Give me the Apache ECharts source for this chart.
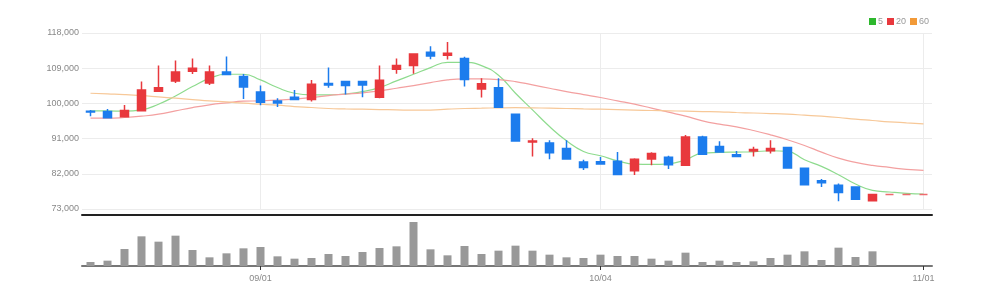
<!DOCTYPE html>
<html>
<head>
<meta charset="utf-8">
<script src="https://cdn.jsdelivr.net/npm/echarts@6/dist/echarts.min.js"></script>
<style>
html,body{margin:0;padding:0;background:#fff;}
#chart{width:983px;height:299px;}
</style>
</head>
<body>
<div id="chart"></div>
<script>
const dates = ['08/18','08/19','08/22','08/23','08/24','08/25','08/26','08/29','08/30','08/31',
  '09/01','09/02','09/05','09/06','09/07','09/08','09/13','09/14','09/15','09/16',
  '09/19','09/20','09/21','09/22','09/23','09/26','09/27','09/28','09/29','09/30',
  '10/04','10/05','10/06','10/07','10/11','10/12','10/13','10/14','10/17','10/18',
  '10/19','10/20','10/21','10/24','10/25','10/26','10/27','10/28','10/31','11/01'];
const tickLabels = ['09/01','10/04','11/01'];
const openP  = [98000,97900,96600,98100,103100,105700,108200,105200,108000,106900,
  102900,100600,101600,101000,105100,105600,105600,101600,108700,109700,
  113100,112300,111500,103700,104000,97200,90100,89900,88500,85000,
  85100,85200,82800,85800,86200,84200,91400,89000,86900,87800,
  87900,88700,83400,80200,79100,78600,75100,76700,76700,76700];
const closeP = [97800,96300,98200,103400,104000,108000,109000,108000,107400,104200,
  100300,100100,101000,104900,104700,104600,104700,105900,109700,112600,
  112100,112800,106100,105000,99000,90400,90400,87400,85800,83600,
  84500,81800,85700,87200,84300,91400,87000,87600,86400,88200,
  88500,83500,79200,79700,77200,75500,76700,76700,76700,76700];
const lowP   = [96700,96300,96500,97900,103000,105200,107500,104700,107300,101100,
  99500,99100,100900,100500,104000,102300,101600,101300,107600,107600,
  111300,111200,104300,101500,98800,90200,86400,85700,85700,83000,
  84300,81700,81700,84200,83200,84000,87000,87400,86300,86400,
  87200,83400,79000,78600,75000,75300,75100,76700,76700,76700];
const highP  = [98300,98600,99600,105600,109700,111000,111500,109700,112000,107500,
  104600,101300,103400,106000,109200,105600,105700,109700,111500,112600,
  114600,115700,111900,106400,106400,97300,91100,90600,90600,85600,
  86300,87600,86000,87500,86600,91900,91700,90300,87800,88900,
  90600,88900,83400,80700,79500,78800,76700,76700,76700,76700];
const volume = [12,16,51,89,73,91,48,26,38,53,
  57,29,22,24,36,30,42,54,59,132,
  50,32,60,36,46,61,46,34,26,24,
  34,30,30,22,16,40,12,16,12,14,
  24,34,44,18,55,27,44,null,null,null];
const ma5 = [98100,98100,98000,98350,99800,101900,104300,106400,107450,107450,
  106000,104050,102600,102180,102180,102430,103000,104050,105750,107450,
  109150,110500,110500,109660,107200,102600,98350,94100,90440,87720,
  86610,85330,84480,84400,84560,85580,87290,87460,87550,87630,
  87890,87720,85580,83890,81760,79380,77760,77340,77000,76830];
const ma20 = [96220,96220,96390,96730,97240,98090,98940,99630,100130,100560,
  100650,100820,101100,101500,102010,102350,102690,103200,103880,104560,
  105320,106000,106260,106260,106100,105580,104730,103880,103030,102260,
  101500,100650,99800,98780,97750,96730,95540,94690,94010,93080,
  91970,90700,89250,87550,86010,84910,84140,83630,83120,82870];
const ma60 = [102600,102430,102260,102010,101670,101330,100990,100650,100390,100050,
  99800,99540,99200,98950,98690,98600,98520,98430,98350,98260,
  98300,98520,98690,98780,98860,98900,98860,98780,98690,98600,
  98520,98430,98300,98180,98100,98010,97920,97840,97670,97540,
  97410,97240,96990,96730,96390,95970,95630,95290,95030,94780];

const candles = dates.map((d, i) => [openP[i], closeP[i], lowP[i], highP[i]]);
const isTick = (idx) => tickLabels.indexOf(dates[idx]) >= 0;
const FONT = "'Liberation Sans',Arial,sans-serif";

const chart = echarts.init(document.getElementById('chart'), null, {renderer: 'canvas'});
chart.setOption({
  animation: false,
  backgroundColor: '#fff',
  legend: {
    right: 49, top: 12,
    itemWidth: 7, itemHeight: 7, itemGap: 4,
    icon: 'rect',
    textStyle: {fontSize: 9, color: '#999', fontFamily: FONT, padding: [0,0,0,-3]},
    data: [
      {name: '5', itemStyle: {color: '#2db82d'}},
      {name: '20', itemStyle: {color: '#e8383d'}},
      {name: '60', itemStyle: {color: '#f29a38'}}
    ]
  },
  grid: [
    {left: 82, right: 51, top: 33, height: 176},
    {left: 82, right: 51, top: 215, height: 51}
  ],
  xAxis: [
    {
      type: 'category', gridIndex: 0, data: dates, boundaryGap: true,
      axisLine: {show: false}, axisTick: {show: false}, axisLabel: {show: false},
      splitLine: {show: true, alignWithLabel: true, interval: (i) => isTick(i), lineStyle: {color: '#ececec', width: 1}}
    },
    {
      type: 'category', gridIndex: 1, data: dates, boundaryGap: true, position: 'bottom',
      axisLine: {show: true, lineStyle: {color: '#777', width: 2}},
      axisTick: {show: true, alignWithLabel: true, interval: (i) => isTick(i), length: 4, lineStyle: {color: '#333', width: 1}},
      axisLabel: {show: true, interval: (i) => isTick(i), color: '#888', fontSize: 9, fontFamily: FONT, margin: 8},
      splitLine: {show: false}
    },
    {
      type: 'category', gridIndex: 1, data: dates, boundaryGap: true, position: 'top',
      axisLine: {show: true, lineStyle: {color: '#222', width: 2}},
      axisTick: {show: false}, axisLabel: {show: false}
    }
  ],
  yAxis: [
    {
      type: 'value', gridIndex: 0, min: 73000, max: 118000, interval: 9000,
      axisLine: {show: false}, axisTick: {show: false},
      axisLabel: {color: '#888', fontSize: 9, fontFamily: FONT, margin: 3,
        formatter: (v) => v.toLocaleString('en-US')},
      splitLine: {lineStyle: {color: '#ececec', width: 1}}
    },
    {
      type: 'value', gridIndex: 1, min: 0, max: 153,
      axisLine: {show: false}, axisTick: {show: false}, axisLabel: {show: false},
      splitLine: {show: false}
    }
  ],
  series: [
    {
      name: 'price', type: 'candlestick', xAxisIndex: 0, yAxisIndex: 0,
      data: candles, barWidth: 8,
      itemStyle: {
        color: '#e8383d', color0: '#1c7ced',
        borderColor: '#e8383d', borderColor0: '#1c7ced',
        borderColorDoji: '#ee6a6e', borderWidth: 1.5
      }
    },
    {
      name: '5', type: 'line', xAxisIndex: 0, yAxisIndex: 0, data: ma5,
      smooth: true, showSymbol: false, symbol: 'none',
      itemStyle: {color: '#2db82d'}, lineStyle: {color: '#8edb8e', width: 1.2}, z: 1
    },
    {
      name: '20', type: 'line', xAxisIndex: 0, yAxisIndex: 0, data: ma20,
      smooth: true, showSymbol: false, symbol: 'none',
      itemStyle: {color: '#e8383d'}, lineStyle: {color: '#f3a0a0', width: 1.2}, z: 1
    },
    {
      name: '60', type: 'line', xAxisIndex: 0, yAxisIndex: 0, data: ma60,
      smooth: true, showSymbol: false, symbol: 'none',
      itemStyle: {color: '#f29a38'}, lineStyle: {color: '#f7c898', width: 1.2}, z: 1
    },
    {
      name: 'volume', type: 'bar', xAxisIndex: 1, yAxisIndex: 1, data: volume,
      barWidth: 8, itemStyle: {color: '#999'}
    }
  ]
});
</script>
</body>
</html>
